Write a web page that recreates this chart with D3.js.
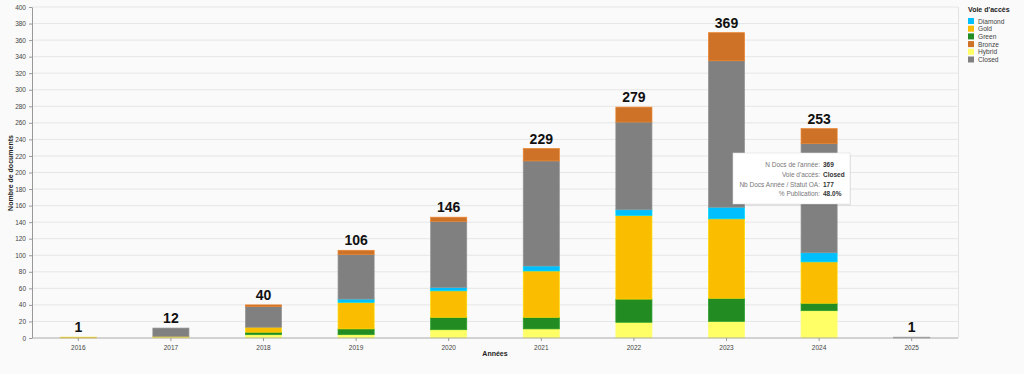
<!DOCTYPE html>
<html><head><meta charset="utf-8">
<script src="https://cdn.jsdelivr.net/npm/d3@7/dist/d3.min.js"></script>
<style>
html,body{margin:0;padding:0;background:#fafafa;}
svg{display:block;font-family:"Liberation Sans",Arial,sans-serif;}
</style></head><body>
<svg id="chart" width="1024" height="374"></svg>
<script>
const years = ["2016","2017","2018","2019","2020","2021","2022","2023","2024","2025"];
const hybrid  = [0, 1, 4, 4, 10, 11, 19, 20, 33, 0];
const green   = [0, 0, 3, 7, 15, 14, 28, 28, 9, 0];
const gold    = [1, 1, 6, 32, 32, 56, 101, 96, 50, 0];
const diamond = [0, 0, 0, 4, 4, 6, 7, 14, 11, 0];
const closed  = [0, 10, 25, 54, 80, 127, 106, 177, 132, 1];
const bronze  = [0, 0, 2, 5, 5, 15, 18, 34, 18, 0];
const yTicks = d3.range(0, 401, 20);
const legendOrder = ["Diamond","Gold","Green","Bronze","Hybrid","Closed"];
const stackOrder = ["Hybrid","Green","Gold","Diamond","Closed","Bronze"];
const colors = {Diamond:"#00bfff", Gold:"#fbbd00", Green:"#228b22", Bronze:"#cd7226", Hybrid:"#ffff66", Closed:"#808080"};
const series = {Hybrid:hybrid, Green:green, Gold:gold, Diamond:diamond, Closed:closed, Bronze:bronze};
const tooltipLabels = ["N Docs de l'année:","Voie d'accès:","Nb Docs Année / Statut OA:","% Publication:"];
const tooltipValues = ["369","Closed","177","48.0%"];

const rows = years.map((y,i)=>{const r={year:y}; stackOrder.forEach(k=>r[k]=series[k][i]); return r;});
const totals = years.map((y,i)=>stackOrder.reduce((s,k)=>s+series[k][i],0));

const svg = d3.select("#chart");
const m = {left:32, right:958, top:7, bottom:338};
const x = d3.scaleBand().domain(years).range([m.left, m.right]).paddingInner(0.61).paddingOuter(0.305);
const y = d3.scaleLinear().domain([0,400]).range([m.bottom, m.top]);

// gridlines
svg.append("g").selectAll("line").data(yTicks.slice(1)).join("line")
  .attr("x1",m.left).attr("x2",m.right).attr("y1",d=>y(d)).attr("y2",d=>y(d))
  .attr("stroke","#e6e6e6").attr("stroke-width",1);
svg.append("line").attr("x1",m.right+0.5).attr("x2",m.right+0.5).attr("y1",m.top).attr("y2",m.bottom)
  .attr("stroke","#e3e3e3");

const stack = d3.stack().keys(stackOrder)(rows);
svg.append("g").selectAll("g").data(stack).join("g")
  .attr("fill",d=>colors[d.key])
  .attr("stroke",d=>d3.color(colors[d.key]).brighter(0.4).formatHex())
  .selectAll("rect").data(d=>d.filter(p=>p[1]-p[0]>0)).join("rect")
  .attr("x",d=>x(d.data.year)).attr("width",x.bandwidth())
  .attr("y",d=>y(d[1])).attr("height",d=>y(d[0])-y(d[1]))
  .attr("stroke-width",0.7);

// total labels
svg.append("g").selectAll("text").data(years).join("text")
  .attr("x",d=>x(d)+x.bandwidth()/2).attr("y",(d,i)=>y(totals[i])-5)
  .attr("text-anchor","middle").attr("font-size",14).attr("font-weight","bold").attr("fill","#111")
  .text((d,i)=>totals[i]);

// axes
const yAxis = svg.append("g").attr("transform",`translate(${m.left},0)`)
  .call(d3.axisLeft(y).tickValues(yTicks).tickSize(3).tickSizeOuter(0));
yAxis.select(".domain").attr("stroke","#999");
yAxis.selectAll(".tick line").attr("stroke","#999");
yAxis.selectAll("text").attr("font-size",6.5).attr("fill","#444").attr("font-family","Liberation Sans, Arial");

const xAxis = svg.append("g").attr("transform",`translate(0,${m.bottom})`)
  .call(d3.axisBottom(x).tickSize(3).tickSizeOuter(0));
xAxis.select(".domain").attr("stroke","#aaa").attr("d",`M${m.left},0H${m.right}`);
xAxis.selectAll(".tick line").attr("stroke","#999");
xAxis.selectAll("text").attr("font-size",6.5).attr("fill","#444").attr("dy","0.9em").attr("font-family","Liberation Sans, Arial");

svg.append("text").attr("x",495).attr("y",356).attr("text-anchor","middle")
  .attr("font-size",7).attr("font-weight","bold").attr("fill","#222").text("Années");
svg.append("text").attr("transform","translate(13,173) rotate(-90)").attr("text-anchor","middle")
  .attr("font-size",7).attr("font-weight","bold").attr("fill","#222").text("Nombre de documents");

// legend
const lg = svg.append("g").attr("transform","translate(968,0)");
lg.append("text").attr("x",0).attr("y",12).attr("font-size",7).attr("font-weight","bold").attr("fill","#222").text("Voie d'accès");
const li = lg.selectAll("g.li").data(legendOrder).join("g").attr("class","li")
  .attr("transform",(d,i)=>`translate(0,${18+i*7.7})`);
li.append("rect").attr("width",6).attr("height",6).attr("fill",d=>colors[d]);
li.append("text").attr("x",10).attr("y",5.5).attr("font-size",6.6).attr("fill","#444").text(d=>d);

// tooltip
const tt = svg.append("g").attr("transform","translate(733,153)");
tt.append("rect").attr("x",1).attr("y",1.5).attr("width",117).attr("height",51).attr("fill","rgba(0,0,0,0.08)").attr("rx",1);
tt.append("rect").attr("width",117).attr("height",51).attr("fill","#fff").attr("stroke","#ddd").attr("stroke-width",0.6);
tooltipLabels.forEach((t,i)=>{
  tt.append("text").attr("x",87).attr("y",14+i*9.8).attr("text-anchor","end").attr("font-size",6.5).attr("fill","#777").text(t);
  tt.append("text").attr("x",90).attr("y",14+i*9.8).attr("font-size",6.5).attr("font-weight","bold").attr("fill","#333").text(tooltipValues[i]);
});
</script>
</body></html>
